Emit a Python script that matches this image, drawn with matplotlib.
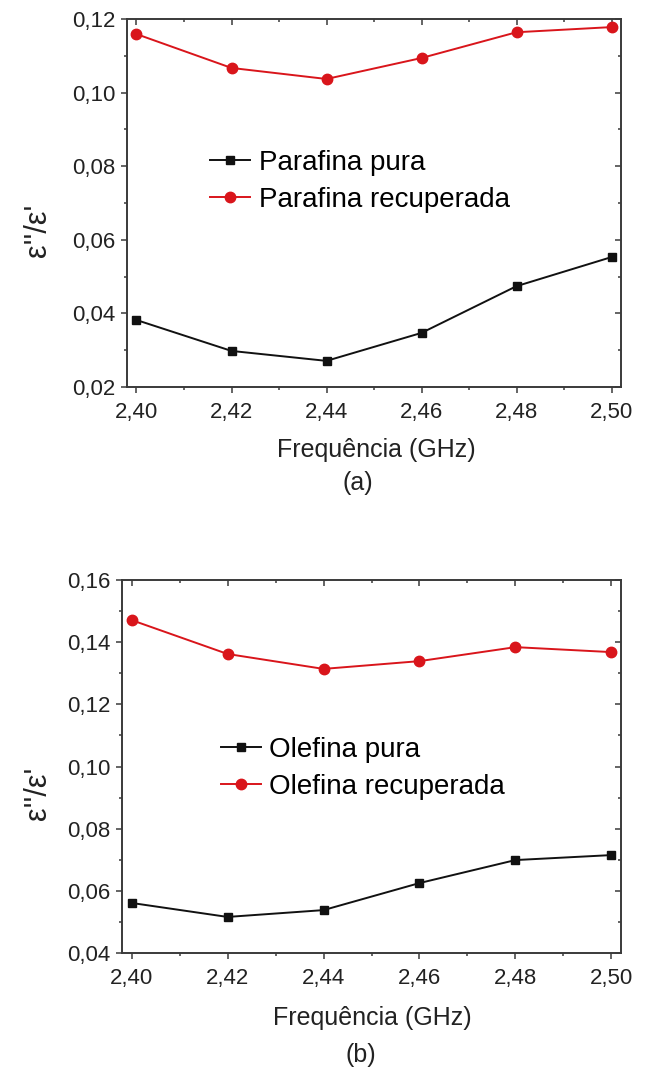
import matplotlib
matplotlib.use("Agg")
import matplotlib.pyplot as plt
from matplotlib.ticker import MultipleLocator, FuncFormatter

plt.rcParams['font.family'] = ['Liberation Sans', 'DejaVu Sans']

# dados
freq = [2.40, 2.42, 2.44, 2.46, 2.48, 2.50]

parafina_pura = [0.0382, 0.0298, 0.0271, 0.0347, 0.0474, 0.0553]
parafina_recup = [0.1159, 0.1067, 0.1037, 0.1094, 0.1164, 0.1178]

olefina_pura = [0.0561, 0.0516, 0.0538, 0.0625, 0.0699, 0.0715]
olefina_recup = [0.1471, 0.1362, 0.1314, 0.1339, 0.1384, 0.1368]

W, H = 648, 1070
fig = plt.figure(figsize=(W / 100, H / 100), dpi=100)

RED = '#d9151b'
BLACK = '#111111'
SPINE = '#3a3a3a'


def comma(v, pos):
    return ("%.2f" % v).replace('.', ',')


def painel(box, ylim, ystep, pura, recup, lab_pura, lab_recup, leg_anchor):
    left, top, right, bottom = box
    ax = fig.add_axes([left / W, 1 - bottom / H, (right - left) / W, (bottom - top) / H])
    ax.plot(freq, pura, '-s', color=BLACK, lw=1.4, ms=6, label=lab_pura)
    ax.plot(freq, recup, '-o', color=RED, lw=1.4, ms=7.5, mec=RED, label=lab_recup)
    ax.set_xlim(2.398, 2.502)
    ax.set_ylim(*ylim)

    ax.xaxis.set_major_locator(MultipleLocator(0.02))
    ax.xaxis.set_minor_locator(MultipleLocator(0.01))
    ax.yaxis.set_major_locator(MultipleLocator(ystep))
    ax.yaxis.set_minor_locator(MultipleLocator(ystep / 2))
    ax.xaxis.set_major_formatter(FuncFormatter(comma))
    ax.yaxis.set_major_formatter(FuncFormatter(comma))

    for s in ax.spines.values():
        s.set_color(SPINE)
        s.set_linewidth(1.4)
    ax.tick_params(which='both', direction='out', color=SPINE, width=1.1,
                   labelsize=16, labelcolor='#222222')
    ax.tick_params(axis='x', which='major', length=4.5, pad=6)
    ax.tick_params(axis='y', which='major', length=4.5, pad=4)
    ax.tick_params(which='minor', length=2.5)

    # ticks para dentro no topo e na direita (estilo Origin)
    sx = ax.secondary_xaxis('top')
    sx.xaxis.set_major_locator(MultipleLocator(0.02))
    sx.xaxis.set_minor_locator(MultipleLocator(0.01))
    sx.tick_params(which='both', direction='in', color=SPINE, width=1.1, labeltop=False)
    sx.tick_params(which='major', length=4.5)
    sx.tick_params(which='minor', length=2.5)
    sx.spines['top'].set_visible(False)
    sy = ax.secondary_yaxis('right')
    sy.yaxis.set_major_locator(MultipleLocator(ystep))
    sy.yaxis.set_minor_locator(MultipleLocator(ystep / 2))
    sy.tick_params(which='both', direction='in', color=SPINE, width=1.1, labelright=False)
    sy.tick_params(which='major', length=4.5)
    sy.tick_params(which='minor', length=2.5)
    sy.spines['right'].set_visible(False)

    ax.legend(loc='upper left', bbox_to_anchor=leg_anchor, frameon=False,
              fontsize=20, handlelength=1.45, handletextpad=0.3,
              labelspacing=0.39, borderpad=0, borderaxespad=0)
    return ax


painel((127, 19, 621, 387), (0.02, 0.12), 0.02, parafina_pura, parafina_recup,
       'Parafina pura', 'Parafina recuperada', (0.168, 0.644))
painel((122, 580, 621, 953), (0.04, 0.16), 0.02, olefina_pura, olefina_recup,
       'Olefina pura', 'Olefina recuperada', (0.198, 0.579))


def txt(x, y, s, **kw):
    fig.text(x / W, 1 - y / H, s, ha='center', va='center', color='#222222', **kw)


# rótulos
txt(38, 230, "ε''/ε'", fontsize=22, rotation=90)
txt(38, 793, "ε''/ε'", fontsize=22, rotation=90)
txt(376, 450, 'Frequência (GHz)', fontsize=18)
txt(358, 483, '(a)', fontsize=18)
txt(372, 1018, 'Frequência (GHz)', fontsize=18)
txt(361, 1055, '(b)', fontsize=18)

fig.savefig('out.png', dpi=100)
